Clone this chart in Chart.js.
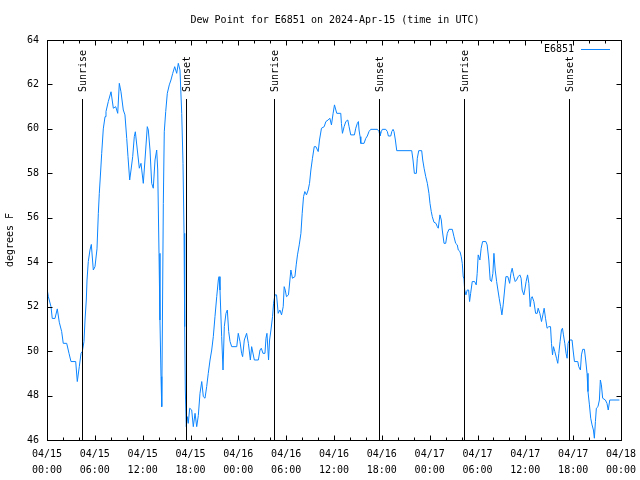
<!DOCTYPE html>
<html>
<head>
<meta charset="utf-8">
<script src="https://cdn.jsdelivr.net/npm/chart.js@4/dist/chart.umd.min.js"></script>
<style>
  html, body { margin: 0; padding: 0; background: #fff; }
  #wrap { width: 640px; height: 480px; }
</style>
</head>
<body>
<div id="wrap"><canvas id="c" width="640" height="480"></canvas></div>
<script>
const chartTitle = 'Dew Point for E6851 on 2024-Apr-15 (time in UTC)';
const seriesName = 'E6851';
const yAxisTitle = 'degrees F';

// hours since 2024-04-15 00:00 UTC
const hours = [
  0, 0.17, 0.50, 0.66, 1.00, 1.29, 1.54, 1.84, 2.04, 2.47, 2.76, 3.01, 3.60, 3.80, 4.05, 4.27, 4.43, 4.64, 4.77, 4.93,
  5.02, 5.18, 5.39, 5.56, 5.81, 6.02, 6.27, 6.44, 6.56, 6.74, 6.86, 7.06, 7.28, 7.40, 7.69, 8.03, 8.32, 8.62, 8.87, 9.07,
  9.28, 9.57, 9.78, 10.00, 10.16, 10.37, 10.54, 10.75, 10.95, 11.08, 11.33, 11.58, 11.79, 12.08, 12.29,
  12.58, 12.71, 12.92, 13.13, 13.33, 13.55, 13.76, 13.89, 14.05, 14.17, 14.30, 14.39, 14.46, 14.59, 14.71, 14.89, 15.09,
  15.34, 15.55, 15.77, 16.02, 16.27, 16.47, 16.68, 16.90, 17.06, 17.19, 17.27, 17.35, 17.47, 17.60, 17.72, 17.90, 18.15,
  18.35, 18.57, 18.78, 18.98, 19.19, 19.41, 19.61, 19.82, 20.03, 20.23, 20.45, 20.66, 20.86, 21.07, 21.29, 21.49, 21.58,
  21.70, 21.91, 22.08, 22.24, 22.45, 22.62, 22.79, 22.96, 23.17, 23.80, 23.99, 24.21, 24.41, 24.54, 24.75, 25.04, 25.26,
  25.51, 25.67, 26.01, 26.51, 26.72, 26.88, 27.09, 27.34, 27.47, 27.59, 27.79, 27.92, 28.09, 28.29, 28.42, 28.59, 28.79,
  29.00, 29.21, 29.42, 29.63, 29.75, 29.88, 30.04, 30.29, 30.47, 30.59, 30.79, 31.10, 31.26, 31.42, 31.64, 31.85, 32.01,
  32.18, 32.34, 32.55, 32.76, 32.93, 33.10, 33.30, 33.52, 33.73, 34.02, 34.18, 34.43, 34.77, 34.98, 35.26, 35.48, 35.68,
  35.89, 36.06, 36.23, 36.35, 36.85, 36.93, 37.06, 37.27, 37.48, 37.73, 37.89, 38.10, 38.56, 38.73, 38.93, 39.06, 39.14,
  39.27, 39.36, 39.77, 39.98, 40.18, 40.39, 40.61, 41.44, 41.65, 41.77, 41.94, 42.06, 42.49, 42.69, 42.82, 43.12, 43.25,
  43.41, 43.53, 43.70, 43.87, 45.75, 45.91, 46.08, 46.33, 46.45, 46.63, 47.00, 47.13, 47.30, 47.51, 47.71, 47.91, 48.04,
  48.20, 48.33, 48.54, 48.79, 48.96, 49.08, 49.29, 49.46, 49.58, 49.80, 50.01, 50.21, 50.42, 50.84, 51.05, 51.26, 51.46,
  51.59, 51.80, 51.96, 52.09, 52.21, 52.30, 52.39, 52.55, 52.71, 52.89, 53.01, 53.14, 53.34, 53.64, 53.84, 53.96, 54.09,
  54.30, 54.46, 54.64, 55.05, 55.21, 55.42, 55.59, 55.76, 55.93, 56.06, 56.22, 56.40, 56.56, 56.72, 56.90, 57.06, 57.22,
  57.40, 57.56, 57.81, 58.03, 58.19, 58.35, 58.56, 58.73, 58.90, 59.10, 59.31, 59.47, 59.60, 59.81, 59.93, 60.10, 60.28,
  60.44, 60.61, 60.74, 60.86, 61.07, 61.29, 61.49, 61.61, 61.82, 62.03, 62.20, 62.36, 62.53, 62.73, 62.94, 63.16, 63.28,
  63.41, 63.53, 63.70, 63.91, 64.07, 64.20, 64.36, 64.53, 64.66, 64.78, 64.95, 65.11, 65.24, 65.36, 65.54, 65.86, 65.99,
  66.16, 66.58, 66.70, 66.91, 67.04, 67.20, 67.41, 67.57, 67.74, 67.86, 68.04, 68.20, 68.37, 68.54, 68.66, 68.79, 68.91,
  69.11, 69.29, 69.41, 69.54, 69.70, 70.04, 70.24, 70.40, 70.59, 71.80
];

const dewPointF = [
  52.83, 52.45, 52.0, 51.47, 51.47, 51.9, 51.3, 50.88, 50.35, 50.35, 49.9, 49.53, 49.53, 48.63, 49.3, 49.9, 49.98, 50.43, 51.4, 52.3,
  53.2, 54.03, 54.55, 54.8, 53.65, 53.8, 54.6, 56.2, 57.1, 58.15, 58.9, 60.0, 60.55, 60.78, 61.23, 61.67, 60.93, 61.0, 60.7, 62.05,
  61.67, 60.85, 60.63, 59.57, 58.75, 57.7, 58.15, 58.75, 59.65, 59.87, 59.05, 58.23, 58.45, 57.55, 58.6,
  60.1, 59.95, 59.05, 57.55, 57.33, 58.6, 59.05, 58.15, 54.4, 51.4, 48.85, 47.5, 50.5, 56.65, 59.87, 60.78, 61.6,
  61.98, 62.2, 62.5, 62.8, 62.5, 62.95, 62.65, 60.7, 58.45, 55.3, 51.1, 48.25, 46.6, 47.05, 46.75, 47.43, 47.35,
  46.6, 47.2, 46.6, 47.1, 48.1, 48.63, 47.95, 47.88, 48.4, 49.0, 49.6, 50.05, 50.65, 51.55, 52.45, 53.2, 53.35,
  52.75, 50.65, 49.15, 51.1, 51.7, 51.85, 50.88, 50.43, 50.2, 50.2, 50.8, 50.43, 49.9, 49.75, 50.5, 50.8, 50.35,
  49.6, 50.2, 49.6, 49.6, 50.05, 50.13, 49.9, 49.9, 50.58, 50.8, 49.6, 50.5, 50.95, 51.55, 52.15, 52.53, 52.53,
  51.7, 51.85, 51.63, 52.0, 52.9, 52.75, 52.45, 52.53, 53.2, 53.65, 53.28, 53.35, 53.88, 54.33, 54.78, 55.3, 56.2,
  56.95, 57.18, 57.03, 57.25, 57.55, 58.15, 58.68, 59.2, 59.2, 58.98, 59.5, 60.03, 60.1, 60.33, 60.4, 60.48, 60.18,
  60.7, 61.08, 60.85, 60.7, 60.7, 60.25, 59.8, 60.1, 60.33, 60.4, 60.1, 59.73, 59.73, 60.03, 60.25, 60.33, 59.95,
  59.65, 59.35, 59.35, 59.57, 59.68, 59.88, 59.98, 59.98, 59.88, 59.68, 59.88, 59.98, 59.98, 59.88, 59.68, 59.68, 59.88,
  59.98, 59.88, 59.5, 59.02, 59.02, 58.6, 58.0, 58.0, 58.68, 59.02, 59.02, 58.6, 58.23, 57.85, 57.55, 57.1, 56.65,
  56.28, 56.05, 55.8, 55.75, 55.6, 55.53, 56.13, 55.9, 55.45, 54.85, 54.85, 55.3, 55.48, 55.48, 55.15, 54.85, 54.78,
  54.55, 54.48, 54.25, 53.95, 53.35, 53.28, 52.75, 52.53, 52.75, 52.75, 52.23, 52.6, 53.13, 53.13, 52.98, 53.5, 54.33,
  54.1, 54.63, 54.93, 54.93, 54.78, 54.1, 53.2, 53.13, 53.5, 54.4, 53.65, 53.13, 52.75, 52.38, 52.0, 51.63, 52.08,
  52.75, 53.35, 53.35, 53.05, 53.5, 53.73, 53.35, 53.13, 53.2, 53.35, 53.43, 53.28, 52.75, 52.53, 52.75, 53.13, 53.43,
  53.05, 52.0, 52.38, 52.45, 52.23, 51.7, 51.7, 51.93, 51.7, 51.33, 51.63, 51.93, 51.48, 51.03, 51.1, 51.1, 50.35,
  49.83, 50.2, 49.98, 49.68, 49.45, 49.9, 50.43, 50.95, 51.03, 50.73, 50.35, 49.9, 49.68, 50.35, 50.5, 50.5, 50.05,
  49.53, 49.53, 49.3, 49.15, 49.83, 50.08, 50.08, 49.6, 49.0, 48.18, 47.58, 46.98, 46.68, 46.45, 46.08, 46.83, 47.43,
  47.5, 47.8, 48.7, 48.48, 47.88, 47.8, 47.65, 47.35, 47.8, 47.8
];

const sunEventHours = [4.42, 17.47, 28.43, 41.60, 52.35, 65.52];
const sunEventLabels = ['Sunrise', 'Sunset', 'Sunrise', 'Sunset', 'Sunrise', 'Sunset'];

const xTickHours = [0, 6, 12, 18, 24, 30, 36, 42, 48, 54, 60, 66, 72];
const xTickLabels = [
  ['04/15', '00:00'], ['04/15', '06:00'], ['04/15', '12:00'], ['04/15', '18:00'],
  ['04/16', '00:00'], ['04/16', '06:00'], ['04/16', '12:00'], ['04/16', '18:00'],
  ['04/17', '00:00'], ['04/17', '06:00'], ['04/17', '12:00'], ['04/17', '18:00'],
  ['04/18', '00:00']
];
const xMinorStep = 2;
const yTicks = [46, 48, 50, 52, 54, 56, 58, 60, 62, 64];

const FONT = "'DejaVu Sans Mono', monospace";
const LINE_COLOR = '#0a84ff';

const framePlugin = {
  id: 'frame',
  afterDatasetsDraw(chart) {
    const {ctx, chartArea: a, scales: {x, y}} = chart;
    ctx.save();
    ctx.strokeStyle = '#000';
    ctx.lineWidth = 1;
    const L = Math.round(a.left) + 0.5, R = Math.round(a.right) + 0.5;
    const T = Math.round(a.top) + 0.5, B = Math.round(a.bottom) + 0.5;

    // sunrise / sunset markers
    ctx.fillStyle = '#000';
    ctx.font = '10px ' + FONT;
    sunEventHours.forEach((h, i) => {
      const px = Math.round(x.getPixelForValue(h)) + 0.5;
      ctx.beginPath();
      ctx.moveTo(px, a.top + 59);
      ctx.lineTo(px, a.bottom);
      ctx.stroke();
      ctx.save();
      ctx.translate(px + 1, a.top + 52);
      ctx.rotate(-Math.PI / 2);
      ctx.textAlign = 'left';
      ctx.textBaseline = 'middle';
      ctx.fillText(sunEventLabels[i], 0, 0);
      ctx.restore();
    });

    // border
    ctx.strokeRect(L, T, R - L, B - T);

    // ticks (inward, mirrored)
    ctx.beginPath();
    for (let h = x.min; h <= x.max + 1e-9; h += xMinorStep) {
      const px = Math.round(x.getPixelForValue(h)) + 0.5;
      const major = xTickHours.includes(h);
      const len = major ? 5 : 3;
      ctx.moveTo(px, B); ctx.lineTo(px, B - len);
      ctx.moveTo(px, T); ctx.lineTo(px, T + len);
    }
    yTicks.forEach(v => {
      const py = Math.round(y.getPixelForValue(v)) + 0.5;
      ctx.moveTo(L, py); ctx.lineTo(L + 5, py);
      ctx.moveTo(R, py); ctx.lineTo(R - 5, py);
    });
    ctx.stroke();

    // title
    ctx.textAlign = 'center';
    ctx.textBaseline = 'middle';
    ctx.fillText(chartTitle, (a.left + a.right) / 2 + 1, 20);

    // legend
    ctx.textAlign = 'right';
    ctx.fillText(chart.data.datasets[0].label, a.right - 47, a.top + 9);
    ctx.strokeStyle = LINE_COLOR;
    ctx.beginPath();
    ctx.moveTo(a.right - 40, a.top + 9.5);
    ctx.lineTo(a.right - 11, a.top + 9.5);
    ctx.stroke();
    ctx.restore();
  }
};

new Chart(document.getElementById('c'), {
  type: 'line',
  data: {
    datasets: [{
      label: seriesName,
      data: hours.map((h, i) => ({x: h, y: dewPointF[i]})),
      borderColor: LINE_COLOR,
      borderWidth: 1,
      pointRadius: 0,
      tension: 0,
      fill: false
    }]
  },
  options: {
    responsive: false,
    devicePixelRatio: 1,
    animation: false,
    layout: {padding: {top: 40, right: 19, left: 0, bottom: 0}},
    plugins: {legend: {display: false}, title: {display: false}, tooltip: {enabled: false}},
    scales: {
      x: {
        type: 'linear',
        min: 0, max: 72,
        grid: {display: false, drawTicks: false},
        border: {display: false},
        afterBuildTicks: s => { s.ticks = xTickHours.map(v => ({value: v})); },
        afterFit: s => { s.height = 40; s.paddingLeft = 0; s.paddingRight = 0; },
        ticks: {
          autoSkip: false, maxRotation: 0, minRotation: 0,
          padding: 6,
          color: '#000',
          font: {family: FONT, size: 10, lineHeight: 1.6},
          callback: v => xTickLabels[xTickHours.indexOf(v)]
        }
      },
      y: {
        type: 'linear',
        min: 46, max: 64,
        grid: {display: false, drawTicks: false},
        border: {display: false},
        afterBuildTicks: s => { s.ticks = yTicks.map(v => ({value: v})); },
        afterFit: s => { s.width = 47; s.paddingTop = 0; s.paddingBottom = 0; },
        ticks: {
          padding: 8,
          color: '#000',
          font: {family: FONT, size: 10},
          callback: v => String(v)
        },
        title: {
          display: true,
          text: yAxisTitle,
          color: '#000',
          padding: {top: 4, bottom: 0},
          font: {family: FONT, size: 10}
        }
      }
    }
  },
  plugins: [framePlugin]
});
</script>
</body>
</html>
